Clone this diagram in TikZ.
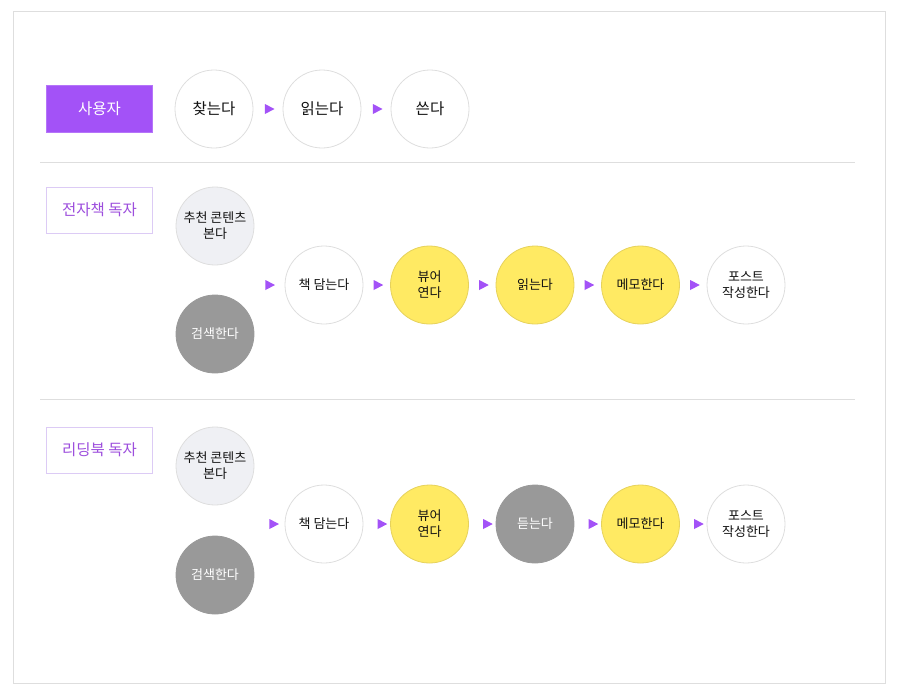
\documentclass[tikz,border=0pt]{standalone}
\usepackage{fontspec}
\setmainfont{Noto Sans CJK KR}
\usetikzlibrary{shapes.geometric}
\definecolor{userpurple}{HTML}{A352F7}
\definecolor{labelpurple}{HTML}{9D4EDD}
\definecolor{labeledge}{HTML}{DCCBF5}
\definecolor{linegray}{HTML}{DEDEDE}
\definecolor{softgray}{HTML}{EFF0F4}
\definecolor{darkfill}{HTML}{999999}
\definecolor{memoyellow}{HTML}{FFEA63}
\definecolor{yellowedge}{HTML}{E6D25C}
\definecolor{inkblack}{HTML}{111111}

\begin{document}
\begin{tikzpicture}[x=1pt,y=-1pt,
  act/.style={circle, draw=linegray, line width=0.8pt, fill=white, minimum size=78pt, inner sep=0pt,
    align=center, text=inkblack, font=\fontsize{13}{16}\selectfont},
  big/.style={font=\fontsize{15.5}{18}\selectfont},
  soft/.style={act, fill=softgray},
  dim/.style={act, fill=darkfill, draw=darkfill, text=white},
  hot/.style={act, fill=memoyellow, draw=yellowedge},
  userbox/.style={rectangle, fill=userpurple, draw=userpurple!80, text=white, minimum width=106pt,
    minimum height=47pt, inner sep=0pt, font=\fontsize{15.5}{18}\selectfont},
  readerbox/.style={rectangle, fill=white, draw=labeledge, text=labelpurple, minimum width=106pt,
    minimum height=46pt, inner sep=0pt, font=\fontsize{15.5}{18}\selectfont},
  tri/.style={isosceles triangle, fill=userpurple, inner sep=0pt, minimum width=10pt, minimum height=9.5pt,
    isosceles triangle stretches}]

\useasboundingbox (0,0) rectangle (901,694);
\draw[linegray] (13,11) rectangle (885,683);

% user
\node[userbox] (user) at (99.5,109) {사용자};
\node[act, big] (find) at (214,109) {찾는다};
\node[act, big] (read) at (322,109) {읽는다};
\node[act, big] (write) at (430,109) {쓴다};
\path (find) -- node[tri] (tU1) {} (read);
\path (read) -- node[tri] (tU2) {} (write);

\draw[linegray] (40,162) -- (855,162);

% ebook reader
\node[readerbox] (ebook) at (99.5,210) {전자책 독자};
\node[soft] (recoA) at (215,226) {추천 콘텐츠\\본다};
\node[dim] (searchA) at (215,334) {검색한다};
\node[act] (cartA) at (324,285) {책 담는다};
\node[hot] (viewA) at (429.5,285) {뷰어\\연다};
\node[hot] (readA) at (535,285) {읽는다};
\node[hot] (memoA) at (640.5,285) {메모한다};
\node[act] (postA) at (746,285) {포스트\\작성한다};
\node[tri] (tA0) at (268.5,285) {};
\foreach \a/\b [count=\i] in {cartA/viewA, viewA/readA, readA/memoA, memoA/postA}
  \path (\a) -- node[tri] (tA\i) {} (\b);

\draw[linegray] (40,399) -- (855,399);

% readingbook reader
\node[readerbox] (rbook) at (99.5,450) {리딩북 독자};
\node[soft] (recoB) at (215,466) {추천 콘텐츠\\본다};
\node[dim] (searchB) at (215,575) {검색한다};
\node[act] (cartB) at (324,524) {책 담는다};
\node[hot] (viewB) at (429.5,524) {뷰어\\연다};
\node[dim] (listenB) at (535,524) {듣는다};
\node[hot] (memoB) at (640.5,524) {메모한다};
\node[act] (postB) at (746,524) {포스트\\작성한다};
\node[tri] (tB0) at (272.5,524) {};
\foreach \a/\b [count=\i] in {cartB/viewB, viewB/listenB, listenB/memoB, memoB/postB}
  \path (\a) -- node[tri, xshift=4pt] (tB\i) {} (\b);
\end{tikzpicture}
\end{document}
